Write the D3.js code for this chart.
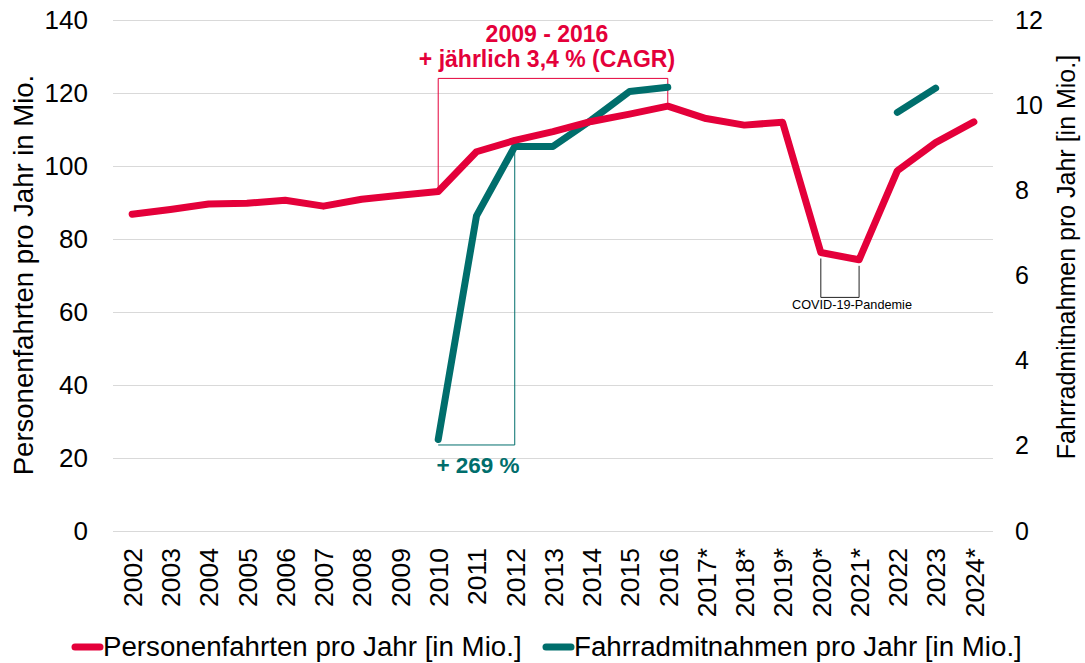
<!DOCTYPE html>
<html lang="de">

<head>
    <meta charset="UTF-8">
    <title>Personenfahrten und Fahrradmitnahmen</title>
    <script src="https://d3js.org/d3.v7.min.js"></script>
    <style>
        body { margin: 0; background: #fff; }
        svg text { font-family: "Liberation Sans", Arial, sans-serif; }
    </style>
</head>

<body>
    <svg id="chart" width="1085" height="663"></svg>

    <script>
        // Jahre (mit * = geschätzt)
        const years = ["2002", "2003", "2004", "2005", "2006", "2007", "2008", "2009", "2010", "2011",
            "2012", "2013", "2014", "2015", "2016", "2017*", "2018*", "2019*", "2020*", "2021*",
            "2022", "2023", "2024*"];

        // Personenfahrten pro Jahr [in Mio.] - linke Achse
        const trips = [86.8, 88.1, 89.6, 89.8, 90.6, 89.0, 90.9, 92.0, 93.0, 103.9,
            107.0, 109.4, 112.2, 114.2, 116.4, 113.0, 111.2, 112.0, 76.3, 74.3,
            98.7, 106.4, 112.1];

        // Fahrradmitnahmen pro Jahr [in Mio.] - rechte Achse
        const bikes = [null, null, null, null, null, null, null, null, 2.15, 7.4,
            9.03, 9.03, 9.65, 10.32, 10.42, null, null, null, null, null,
            9.83, 10.4, null];

        const leftTicks = [0, 20, 40, 60, 80, 100, 120, 140];
        const rightTicks = [0, 2, 4, 6, 8, 10, 12];

        const red = "#E4003A";
        const teal = "#006E6C";

        const svg = d3.select("#chart");
        const plotLeft = 113, plotRight = 993, plotTop = 20, plotBottom = 531;

        const x = d3.scalePoint().domain(years).range([plotLeft, plotRight]).padding(0.5);
        const yL = d3.scaleLinear().domain([0, 140]).range([plotBottom, plotTop]);
        const yR = d3.scaleLinear().domain([0, 12]).range([plotBottom, plotTop]);

        // gridlines
        svg.append("g")
            .attr("transform", `translate(${plotLeft},0)`)
            .call(d3.axisLeft(yL).tickValues(leftTicks).tickSize(-(plotRight - plotLeft)).tickFormat(""))
            .call(g => g.select(".domain").remove())
            .call(g => g.selectAll("line").attr("stroke", "#d9d9d9").attr("stroke-width", 1));

        // left axis labels
        svg.append("g")
            .attr("transform", `translate(${plotLeft},0)`)
            .call(d3.axisLeft(yL).tickValues(leftTicks).tickSize(0).tickPadding(25))
            .call(g => g.select(".domain").remove())
            .call(g => g.selectAll("text").attr("font-size", 26).attr("fill", "#000")
                .attr("font-family", "Liberation Sans, Arial, sans-serif"));

        // right axis labels
        svg.append("g")
            .attr("transform", `translate(${plotRight},0)`)
            .call(d3.axisRight(yR).tickValues(rightTicks).tickSize(0).tickPadding(22))
            .call(g => g.select(".domain").remove())
            .call(g => g.selectAll("text").attr("font-size", 25).attr("fill", "#000")
                .attr("font-family", "Liberation Sans, Arial, sans-serif"));

        // x axis labels
        svg.append("g")
            .attr("transform", `translate(0,${plotBottom})`)
            .call(d3.axisBottom(x).tickSize(0))
            .call(g => g.select(".domain").remove())
            .call(g => g.selectAll("text")
                .attr("font-size", 26.5).attr("fill", "#000")
                .attr("font-family", "Liberation Sans, Arial, sans-serif")
                .attr("text-anchor", "end")
                .attr("transform", "rotate(-90)")
                .attr("x", -17).attr("y", 0).attr("dy", "0.35em"));

        // axis titles
        svg.append("text")
            .attr("transform", "translate(33,275) rotate(-90)")
            .attr("text-anchor", "middle")
            .attr("font-size", 27.5)
            .text("Personenfahrten pro Jahr in Mio.");

        svg.append("text")
            .attr("transform", "translate(1075,257) rotate(-90)")
            .attr("text-anchor", "middle")
            .attr("font-size", 25)
            .text("Fahrradmitnahmen pro Jahr [in Mio.]");

        // annotations
        const thin = (pts, color) => svg.append("path")
            .attr("d", d3.line()(pts))
            .attr("fill", "none")
            .attr("stroke", color)
            .attr("stroke-width", 1);

        const i2010 = years.indexOf("2010"), i2012 = years.indexOf("2012"), i2016 = years.indexOf("2016");
        const i2020 = years.indexOf("2020*"), i2021 = years.indexOf("2021*");

        thin([[x("2010"), yL(trips[i2010])], [x("2010"), yL(124)], [x("2016"), yL(124)], [x("2016"), yL(trips[i2016]) + 3]], red);
        thin([[x("2010"), yR(2.02)], [x("2012"), yR(2.02)], [x("2012"), yR(bikes[i2012])]], teal);
        thin([[x("2020*"), yL(trips[i2020]) + 6], [x("2020*"), yL(64)], [x("2021*"), yL(64)], [x("2021*"), yL(trips[i2021]) + 6]], "#222");

        // lines
        const lineL = d3.line().defined(d => d != null).x((d, i) => x(years[i])).y(d => yL(d));
        const lineR = d3.line().defined(d => d != null).x((d, i) => x(years[i])).y(d => yR(d));

        svg.append("path")
            .datum(bikes)
            .attr("fill", "none")
            .attr("stroke", teal)
            .attr("stroke-width", 7)
            .attr("stroke-linejoin", "round")
            .attr("stroke-linecap", "round")
            .attr("d", lineR);

        svg.append("path")
            .datum(trips)
            .attr("fill", "none")
            .attr("stroke", red)
            .attr("stroke-width", 7)
            .attr("stroke-linejoin", "round")
            .attr("stroke-linecap", "round")
            .attr("d", lineL);

        // annotation texts
        svg.append("text")
            .attr("x", 547).attr("y", 42)
            .attr("text-anchor", "middle")
            .attr("font-size", 23).attr("font-weight", "bold").attr("fill", red)
            .text("2009 - 2016");
        svg.append("text")
            .attr("x", 547).attr("y", 67)
            .attr("text-anchor", "middle")
            .attr("font-size", 23).attr("font-weight", "bold").attr("fill", red)
            .text("+ jährlich 3,4 % (CAGR)");
        svg.append("text")
            .attr("x", 478).attr("y", 473)
            .attr("text-anchor", "middle")
            .attr("font-size", 22.5).attr("font-weight", "bold").attr("fill", teal)
            .text("+ 269 %");
        svg.append("text")
            .attr("x", 852).attr("y", 309)
            .attr("text-anchor", "middle")
            .attr("font-size", 12.7).attr("fill", "#000")
            .text("COVID-19-Pandemie");

        // legend
        const legend = [
            { label: "Personenfahrten pro Jahr [in Mio.]", color: red, x: 75 },
            { label: "Fahrradmitnahmen pro Jahr [in Mio.]", color: teal, x: 546 }
        ];
        const lg = svg.append("g");
        legend.forEach(d => {
            lg.append("line")
                .attr("x1", d.x).attr("x2", d.x + 25)
                .attr("y1", 647).attr("y2", 647)
                .attr("stroke", d.color).attr("stroke-width", 7)
                .attr("stroke-linecap", "round");
            lg.append("text")
                .attr("x", d.x + 28).attr("y", 656)
                .attr("font-size", 27.7)
                .text(d.label);
        });
    </script>

</body>

</html>
